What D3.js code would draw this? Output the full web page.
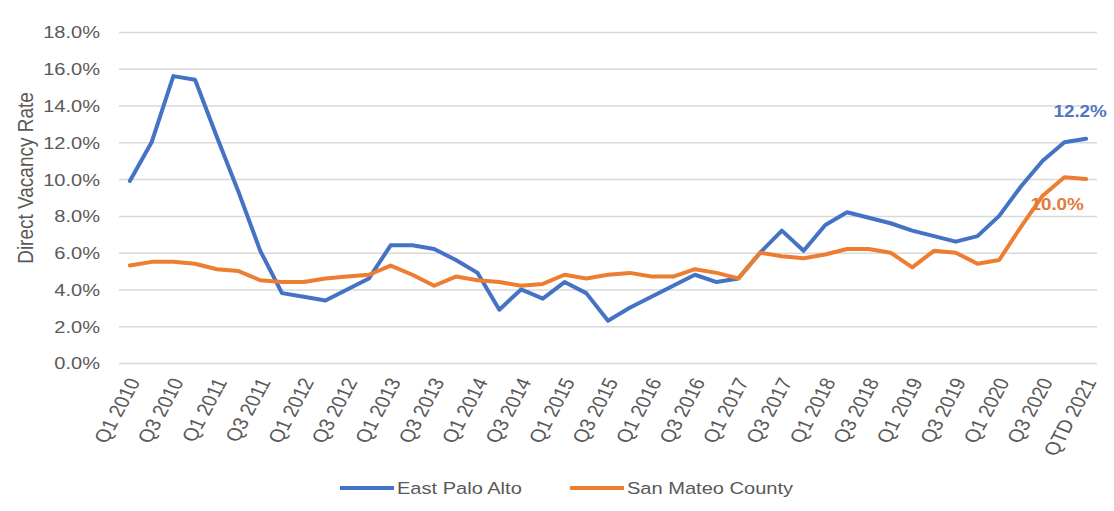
<!DOCTYPE html>
<html>
<head>
<meta charset="utf-8">
<script src="https://cdn.jsdelivr.net/npm/d3@7"></script>
<style>
  body { margin: 0; background: #fff; }
  text { font-family: "Liberation Sans", Arial, sans-serif; fill: #595959; }
</style>
</head>
<body>
<div id="chart"></div>
<script>
// quarters on the x axis
var quarters = [
  "Q1 2010","Q2 2010","Q3 2010","Q4 2010",
  "Q1 2011","Q2 2011","Q3 2011","Q4 2011",
  "Q1 2012","Q2 2012","Q3 2012","Q4 2012",
  "Q1 2013","Q2 2013","Q3 2013","Q4 2013",
  "Q1 2014","Q2 2014","Q3 2014","Q4 2014",
  "Q1 2015","Q2 2015","Q3 2015","Q4 2015",
  "Q1 2016","Q2 2016","Q3 2016","Q4 2016",
  "Q1 2017","Q2 2017","Q3 2017","Q4 2017",
  "Q1 2018","Q2 2018","Q3 2018","Q4 2018",
  "Q1 2019","Q2 2019","Q3 2019","Q4 2019",
  "Q1 2020","Q2 2020","Q3 2020","Q4 2020",
  "QTD 2021"
];

// direct vacancy rate, %
var eastPaloAlto = [9.9, 12.0, 15.6, 15.4, 12.3, 9.3, 6.1, 3.8, 3.6, 3.4, 4.0, 4.6,
  6.4, 6.4, 6.2, 5.6, 4.9, 2.9, 4.0, 3.5, 4.4, 3.8, 2.3, 3.0, 3.6, 4.2, 4.8, 4.4,
  4.6, 6.0, 7.2, 6.1, 7.5, 8.2, 7.9, 7.6, 7.2, 6.9, 6.6, 6.9, 8.0, 9.6, 11.0, 12.0, 12.2];
var sanMateo = [5.3, 5.5, 5.5, 5.4, 5.1, 5.0, 4.5, 4.4, 4.4, 4.6, 4.7, 4.8,
  5.3, 4.8, 4.2, 4.7, 4.5, 4.4, 4.2, 4.3, 4.8, 4.6, 4.8, 4.9, 4.7, 4.7, 5.1, 4.9,
  4.6, 6.0, 5.8, 5.7, 5.9, 6.2, 6.2, 6.0, 5.2, 6.1, 6.0, 5.4, 5.6, 7.4, 9.1, 10.1, 10.0];

var seriesNames = ["East Palo Alto", "San Mateo County"];
var yTicks = [0, 2, 4, 6, 8, 10, 12, 14, 16, 18];
// every other quarter gets a label (QTD 2021 falls on one too)
var xTickLabels = quarters.filter(function(d, i) { return i % 2 == 0; });

var colors = ["#4472C4", "#ED7D31"];
var stretch = 1.18; // the picture's text is a bit wide

// set the dimensions and margins of the graph
var margin = {top: 32, right: 17, bottom: 148, left: 119},
    width = 1114 - margin.left - margin.right,
    height = 511 - margin.top - margin.bottom;

var x = d3.scaleBand().domain(quarters).range([0, width]);
var y = d3.scaleLinear().domain([0, 18]).range([height, 0]);

var svg = d3.select("#chart").append("svg")
    .attr("width", 1114)
    .attr("height", 511)
  .append("g")
    .attr("transform", "translate(" + margin.left + "," + margin.top + ")");

// gridlines + y labels
var yAxis = svg.append("g")
    .call(d3.axisLeft(y).tickValues(yTicks).tickSize(-width)
      .tickFormat(function(d) { return d3.format(".1f")(d) + "%"; }));
yAxis.select(".domain").remove();
yAxis.selectAll("line").attr("stroke", "#d9d9d9").attr("stroke-width", 1.5);
yAxis.selectAll("text")
    .attr("x", -19 / stretch)
    .attr("dy", "0.35em")
    .attr("transform", "scale(" + stretch + ",1)")
    .style("font-size", "17px")
    .style("fill", "#595959");

// x labels
var xAxis = svg.append("g")
    .attr("transform", "translate(0," + height + ")")
    .call(d3.axisBottom(x).tickValues(xTickLabels).tickSize(0));
xAxis.select(".domain").remove();
xAxis.selectAll("text")
    .attr("x", 0).attr("y", 0)
    .attr("dy", "0.35em")
    .attr("text-anchor", "end")
    .attr("transform", "translate(4,16) scale(" + stretch + ",1) rotate(-65.5)")
    .style("font-size", "18px")
    .style("fill", "#595959");

// y axis title
svg.append("text")
    .attr("transform", "translate(" + (25 - margin.left) + "," + (178 - margin.top) + ") scale(" + stretch + ",1) rotate(-90)")
    .attr("text-anchor", "middle")
    .attr("dy", "0.35em")
    .style("font-size", "19px")
    .text("Direct Vacancy Rate");

var line = d3.line()
    .x(function(d, i) { return x(quarters[i]) + x.bandwidth() / 2; })
    .y(function(d) { return y(d); });

[eastPaloAlto, sanMateo].forEach(function(s, k) {
  svg.append("path")
      .datum(s)
      .attr("fill", "none")
      .attr("stroke", colors[k])
      .attr("stroke-width", 4)
      .attr("stroke-linejoin", "round")
      .attr("stroke-linecap", "round")
      .attr("d", line);
});

// end labels
var last = quarters.length - 1;
var lx = x(quarters[last]) + x.bandwidth() / 2;
svg.append("text")
    .attr("transform", "translate(" + (lx - 6) + "," + (y(eastPaloAlto[last]) - 22) + ") scale(" + stretch + ",1)")
    .attr("text-anchor", "middle")
    .style("font-size", "16px")
    .style("font-weight", "bold")
    .style("fill", "#5077c2")
    .text(d3.format(".1f")(eastPaloAlto[last]) + "%");
svg.append("text")
    .attr("transform", "translate(" + (lx - 29) + "," + (y(sanMateo[last]) + 31) + ") scale(" + stretch + ",1)")
    .attr("text-anchor", "middle")
    .style("font-size", "16px")
    .style("font-weight", "bold")
    .style("fill", "#e07b3a")
    .text(d3.format(".1f")(sanMateo[last]) + "%");

// legend
var legendX = [340, 570];
var legend = svg.append("g")
    .attr("transform", "translate(" + (-margin.left) + "," + (488 - margin.top) + ")");
seriesNames.forEach(function(name, k) {
  legend.append("line")
      .attr("x1", legendX[k]).attr("x2", legendX[k] + 54)
      .attr("stroke", colors[k])
      .attr("stroke-width", 4);
  legend.append("text")
      .attr("transform", "translate(" + (legendX[k] + 57) + ",0) scale(" + stretch + ",1)")
      .attr("dy", "0.35em")
      .style("font-size", "17px")
      .text(name);
});
</script>
</body>
</html>
